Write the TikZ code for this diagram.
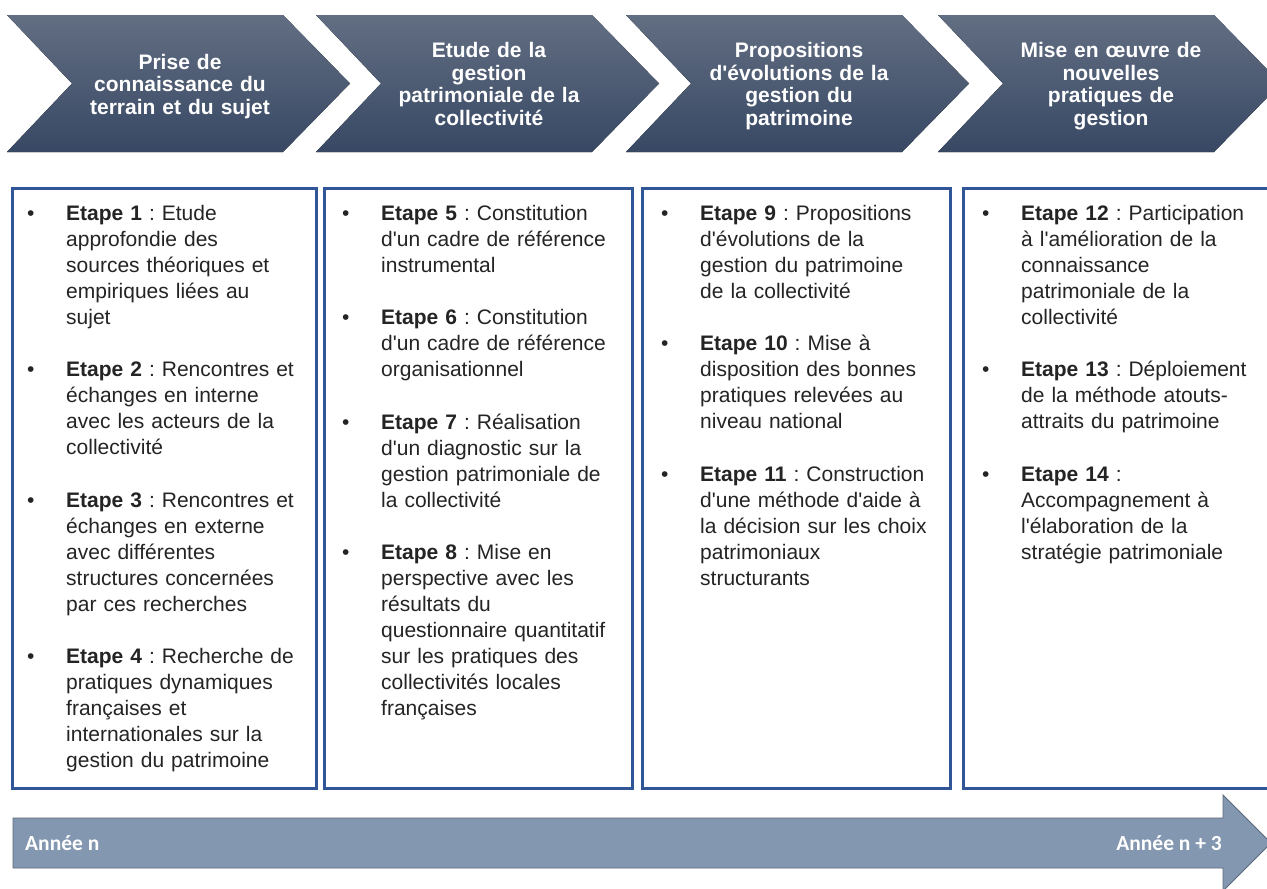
\documentclass[tikz,border=0pt]{standalone}
\usepackage{fontspec}
\newfontfamily\arialfont{Liberation Sans}
\newfontfamily\calibrifont{Carlito}
\usetikzlibrary{positioning}
\frenchspacing

\definecolor{phasetop}{RGB}{98,110,130}
\definecolor{phasebot}{RGB}{56,72,100}
\definecolor{boxblue}{RGB}{48,86,152}
\definecolor{steptext}{RGB}{36,36,36}
\definecolor{yearfill}{RGB}{131,151,176}
\definecolor{yearline}{RGB}{92,104,124}

\tikzset{
  phase/.style={top color=phasetop, bottom color=phasebot, draw=none},
  phaselabel/.style={text=white, font=\arialfont\bfseries\fontsize{21}{22.5}\selectfont,
    align=center, text width=210pt, inner sep=0pt,
    execute at begin node=\strut, execute at end node=\strut},
  stepbox/.style={draw=boxblue, line width=3pt},
  stepitem/.style={text=steptext, font=\arialfont\fontsize{21}{26}\selectfont,
    align=left, text width=250pt, inner sep=0pt,
    execute at begin node=\strut, execute at end node=\strut},
  bulletmark/.style={text=steptext, font=\arialfont\fontsize{21}{26}\selectfont,
    inner sep=0pt, anchor=north west},
  yearlabel/.style={text=white, font=\calibrifont\bfseries\fontsize{21.5}{24}\selectfont, inner sep=0pt}
}

\begin{document}
\begin{tikzpicture}[x=1pt, y=1pt]
    \useasboundingbox[fill=white] (0,0) rectangle (1267,-889);

    % Phases (chevrons)
    \foreach \x/\t [count=\i] in {7/{Prise de\\connaissance du\\terrain et du sujet},
        316/{Etude de la\\gestion\\patrimoniale de la\\collectivité},
        626/{Propositions\\d'évolutions de la\\gestion du\\patrimoine},
        938/{Mise en œuvre de\\nouvelles\\pratiques de\\gestion}} {
      \fill[phase] (\x,-15) -- ++(276,0) -- ++(67,-68.5) -- ++(-67,-68.5) -- ++(-276,0) -- ++(65,68.5) -- cycle;
      \node[phaselabel] (phase\i) at (\x+173,-87) {\t};
    }

    % Boxes
    \foreach \l/\r in {12/316, 324/632, 642/950, 963/1290}
      \draw[stepbox] (\l,-188) rectangle (\r,-788);

    % Steps, box 1
    \node[stepitem, anchor=north west] (s1) at (66,-202) {\textbf{Etape 1} : Etude\\approfondie des\\sources théoriques et\\empiriques liées au\\sujet};
    \node[stepitem, below=26pt of s1] (s2) {\textbf{Etape 2} : Rencontres et\\échanges en interne\\avec les acteurs de la\\collectivité};
    \node[stepitem, below=26pt of s2] (s3) {\textbf{Etape 3} : Rencontres et\\échanges en externe\\avec différentes\\structures concernées\\par ces recherches};
    \node[stepitem, below=26pt of s3] (s4) {\textbf{Etape 4} : Recherche de\\pratiques dynamiques\\françaises et\\internationales sur la\\gestion du patrimoine};

    % Steps, box 2
    \node[stepitem, anchor=north west] (s5) at (381,-202) {\textbf{Etape 5} : Constitution\\d'un cadre de référence\\instrumental};
    \node[stepitem, below=26pt of s5] (s6) {\textbf{Etape 6} : Constitution\\d'un cadre de référence\\organisationnel};
    \node[stepitem, below=26pt of s6] (s7) {\textbf{Etape 7} : Réalisation\\d'un diagnostic sur la\\gestion patrimoniale de\\la collectivité};
    \node[stepitem, below=26pt of s7] (s8) {\textbf{Etape 8} : Mise en\\perspective avec les\\résultats du\\questionnaire quantitatif\\sur les pratiques des\\collectivités locales\\françaises};

    % Steps, box 3
    \node[stepitem, anchor=north west] (s9) at (700,-202) {\textbf{Etape 9} : Propositions\\d'évolutions de la\\gestion du patrimoine\\de la collectivité};
    \node[stepitem, below=26pt of s9] (s10) {\textbf{Etape 10} : Mise à\\disposition des bonnes\\pratiques relevées au\\niveau national};
    \node[stepitem, below=26pt of s10] (s11) {\textbf{Etape 11} : Construction\\d'une méthode d'aide à\\la décision sur les choix\\patrimoniaux\\structurants};

    % Steps, box 4
    \node[stepitem, anchor=north west] (s12) at (1021,-202) {\textbf{Etape 12} : Participation\\à l'amélioration de la\\connaissance\\patrimoniale de la\\collectivité};
    \node[stepitem, below=26pt of s12] (s13) {\textbf{Etape 13} : Déploiement\\de la méthode atouts-\\attraits du patrimoine};
    \node[stepitem, below=26pt of s13] (s14) {\textbf{Etape 14} :\\Accompagnement à\\l'élaboration de la\\stratégie patrimoniale};

    % Bullets
    \foreach \s in {1,...,14}
      \node[bulletmark] (b\s) at ([xshift=-39pt]s\s.north west) {\strut\textbullet};

    % Time arrow
    \fill[yearfill, draw=yearline, line width=0.8pt] (13,-818) -- (1223,-818) -- (1223,-795) -- (1271,-843) -- (1223,-891) -- (1223,-868) -- (13,-868) -- cycle;
    \node[yearlabel, anchor=west] (yearstart) at (25,-843) {Année n};
    \node[yearlabel, anchor=east] (yearend) at (1222,-843) {Année n + 3};
\end{tikzpicture}
\end{document}
